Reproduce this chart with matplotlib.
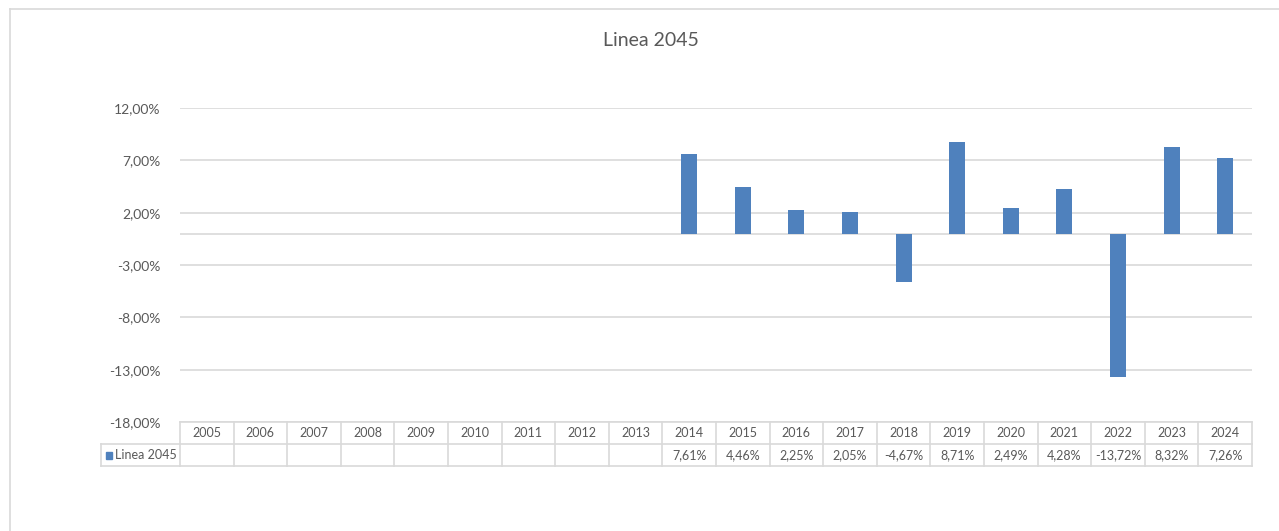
import numpy as np
import matplotlib.pyplot as plt
from matplotlib.ticker import FuncFormatter
from matplotlib.transforms import blended_transform_factory
from matplotlib.lines import Line2D
from matplotlib.patches import Rectangle

years = [str(y) for y in range(2005, 2025)]
values = [None] * 9 + [7.61, 4.46, 2.25, 2.05, -4.67, 8.71, 2.49, 4.28, -13.72, 8.32, 7.26]
series_name = 'Linea 2045'

bar_color = '#4F81BD'
txt_color = '#595959'
grid_color = '#D9D9D9'
plt.rcParams['font.family'] = ['Lato', 'DejaVu Sans']


def pct(v, pos=None):
    return ('%.2f%%' % v).replace('.', ',')


fig = plt.figure(figsize=(12.79, 5.31), dpi=100)
W, H = 1279, 531

# chart frame (cut off on the right/bottom like the screenshot)
fig.add_artist(Line2D([10 / W, 10 / W], [0, 1 - 9 / H], color=grid_color, lw=1.2))
fig.add_artist(Line2D([10 / W, 1], [1 - 9 / H, 1 - 9 / H], color=grid_color, lw=1.2))

ax = fig.add_axes([180 / W, 1 - 422 / H, (1252 - 180) / W, (422 - 108) / H])
x = np.arange(len(years))
heights = [v if v is not None else 0 for v in values]
ax.bar(x, heights, width=0.3, color=bar_color, zorder=3)

ax.set_xlim(-0.5, len(years) - 0.5)
ax.set_ylim(-18, 12)
ax.set_yticks(np.arange(-18, 12.1, 5))
ax.yaxis.set_major_formatter(FuncFormatter(pct))
ax.tick_params(axis='y', length=0, pad=14, labelsize=10, labelcolor=txt_color)
ax.set_xticks([])
for s in ax.spines.values():
    s.set_visible(False)
ax.grid(axis='y', color=grid_color, lw=1.2, zorder=0)
ax.axhline(0, color=grid_color, lw=1.2, zorder=2)

fig.text(651 / W, 1 - 40 / H, series_name, ha='center', va='center',
         fontsize=14, color=txt_color)

# data table under the plot
r1, r2, r3 = 0, -22 / 314, -44 / 314
tr = blended_transform_factory(ax.transData, ax.transAxes)
lkw = dict(color=grid_color, lw=1.2, clip_on=False)
leg_left = -79 / 1072
ax.plot([0, 1], [r1, r1], transform=ax.transAxes, **lkw)
ax.plot([leg_left, 1], [r2, r2], transform=ax.transAxes, **lkw)
ax.plot([leg_left, 1], [r3, r3], transform=ax.transAxes, **lkw)
ax.plot([leg_left, leg_left], [r2, r3], transform=ax.transAxes, **lkw)
for b in np.arange(-0.5, len(years), 1.0):
    ax.plot([b, b], [r1, r3], transform=tr, **lkw)
for i, yr in enumerate(years):
    ax.text(i, (r1 + r2) / 2, yr, transform=tr, ha='center', va='center',
            fontsize=9, color=txt_color)
    if values[i] is not None:
        ax.text(i, (r2 + r3) / 2, pct(values[i]), transform=tr, ha='center',
                va='center', fontsize=9, color=txt_color)

ax.add_patch(Rectangle((leg_left + 5 / 1072, (r2 + r3) / 2 - 3.5 / 314), 6 / 1072, 7 / 314,
                       transform=ax.transAxes, color=bar_color, clip_on=False))
ax.text(leg_left + 14 / 1072, (r2 + r3) / 2, series_name, transform=ax.transAxes,
        ha='left', va='center', fontsize=9, color=txt_color)

fig.savefig('out.png', dpi=100)
